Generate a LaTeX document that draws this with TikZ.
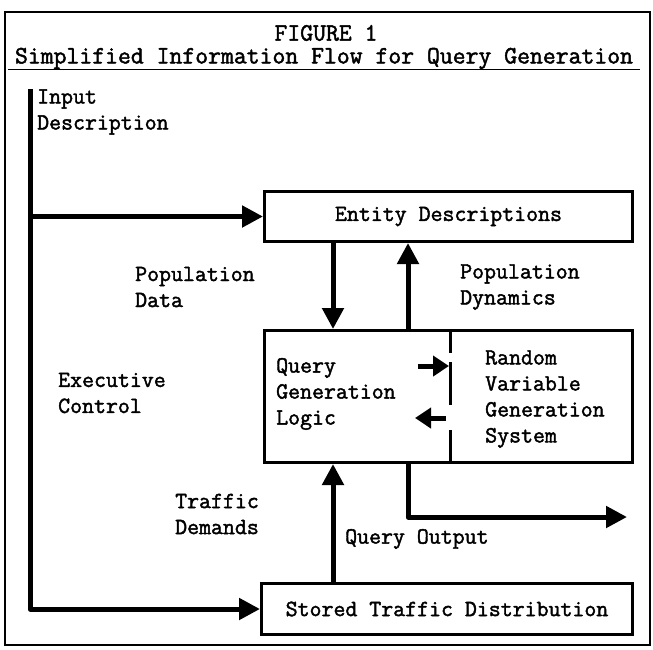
\documentclass[tikz,border=0pt]{standalone}
\usepackage{fontspec}
\setmainfont{Latin Modern Mono}[FakeBold=1.8]
\usetikzlibrary{arrows.meta}
\begin{document}
\begin{tikzpicture}[x=1pt,y=-1pt,
  lbl/.style={font=\fontsize{23.2}{26}\selectfont, inner sep=0pt, align=left, anchor=west},
  ttl/.style={font=\fontsize{25}{28}\selectfont, inner sep=0pt},
  boxn/.style={draw, line width=3pt, anchor=north west, inner sep=0pt,
    font=\fontsize{23.2}{26}\selectfont},
  flow/.style={line width=5pt, line join=round, -{Triangle[length=21pt,width=21pt]}},
  small/.style={line width=5pt, -{Triangle[length=16pt,width=20pt]}},
]
\useasboundingbox (0,0) rectangle (653,649);
\draw[line width=2pt] (5,12) rectangle (650,645);

\node[ttl] (fig) at (326,33) {FIGURE 1};
\node[ttl] (sub) at (324,58.5) {Simplified Information Flow for Query Generation};
\draw[line width=1.6pt] (8,69.5) -- (640,69.5);

% boxes
\node[boxn, minimum width=368pt, minimum height=50pt] (entity) at (263,190) {Entity Descriptions};
\node[boxn, minimum width=368pt, minimum height=132pt] (query) at (263,329) {};
\node[boxn, minimum width=371pt, minimum height=51pt] (stored) at (260,582) {Stored Traffic Distribution};

% divider inside query box
\coordinate (dv) at (450,0);
\draw[line width=3pt] (query.north -| dv) -- (450,353);
\draw[line width=3pt] (450,362) -- (450,405);
\draw[line width=3pt] (450,430) -- (query.south -| dv);

% labels
\node[lbl] (input) at (37,112) {Input\\Description};
\node[lbl] (popdata) at (135,287) {Population\\Data};
\node[lbl] (popdyn) at (460,287) {Population\\Dynamics};
\node[lbl] (exec) at (58,393) {Executive\\Control};
\node[lbl] (qgl) at (276,394) {Query\\Generation\\Logic};
\node[lbl] (rvgs) at (485,399) {Random\\Variable\\Generation\\System};
\node[lbl] (traffic) at (175,514) {Traffic\\Demands};
\node[lbl] (qout) at (345,539) {Query Output};

% main control line
\coordinate (top) at (30,89);
\coordinate (pd) at (333,0);
\coordinate (pdy) at (408,0);
\coordinate (qo) at (408,517);
\coordinate (qoend) at (627,517);
\draw[flow] (top) |- (stored.west);
\draw[flow] (entity.west -| top) -- (entity.west);
\draw[flow] (entity.south -| pd) -- (query.north -| pd);
\draw[flow] (query.north -| pdy) -- (entity.south -| pdy);
\draw[flow] (stored.north -| pd) -- (query.south -| pd);
\draw[flow] (query.south -| pdy) -- (qo) -- (qoend);

% arrows between logic and random system
\coordinate (ra1) at (418,366);
\coordinate (ra2) at (449,366);
\coordinate (la1) at (446,418);
\coordinate (la2) at (415,418);
\draw[small] (ra1) -- (ra2);
\draw[small] (la1) -- (la2);
\end{tikzpicture}
\end{document}
